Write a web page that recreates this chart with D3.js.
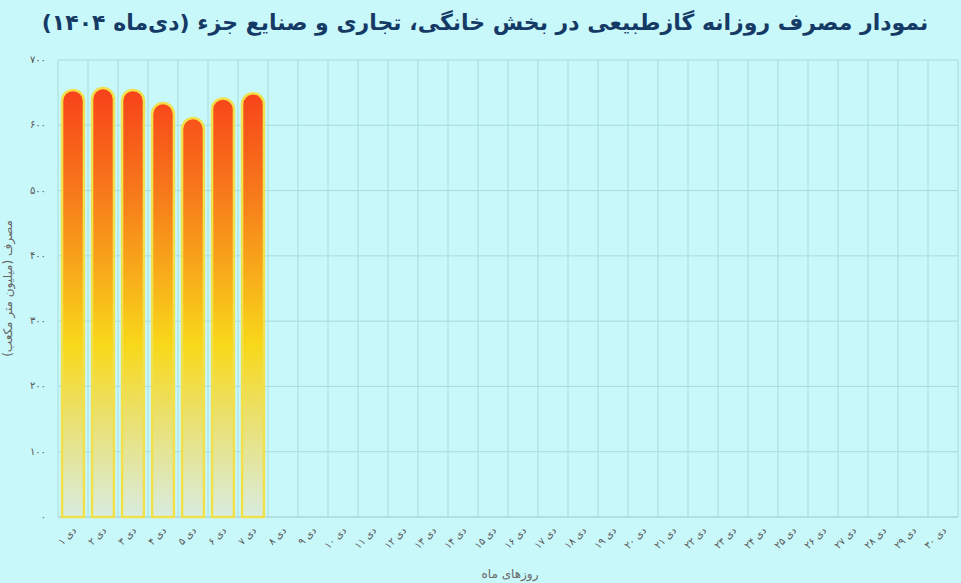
<!DOCTYPE html>
<html><head><meta charset="utf-8">
<script src="https://cdn.jsdelivr.net/npm/d3@7"></script>
<style>
body{margin:0;background:#c9f8fa;font-family:"DejaVu Sans",sans-serif;}
</style></head>
<body><svg id="c" width="961" height="583"></svg>
<script>
const fa = n => String(n).replace(/\d/g, d => "۰۱۲۳۴۵۶۷۸۹"[d]);
const days = d3.range(1, 31).map(d => fa(d) + " دی");
const values = [654, 657, 654, 634, 611, 641, 649];
const yTicks = [0, 100, 200, 300, 400, 500, 600, 700];

const svg = d3.select("#c");
const m = {l: 58, r: 3, t: 60, b: 66};
const W = 961, H = 583;
const x = d3.scaleBand().domain(days).range([m.l, W - m.r]).paddingInner(0.27).paddingOuter(0.135);
const y = d3.scaleLinear().domain([0, 700]).range([H - m.b, m.t]);

const defs = svg.append("defs");
const g = defs.append("linearGradient").attr("id", "gr").attr("gradientUnits", "userSpaceOnUse")
  .attr("x1", 0).attr("x2", 0).attr("y1", y(660)).attr("y2", y(0));
[[0, "#f8401a"], [0.25, "#f77a1a"], [0.6, "#f8d81a"], [1, "#d8ece0"]].forEach(s =>
  g.append("stop").attr("offset", s[0]).attr("stop-color", s[1]));

// grid
const step = x.step();
svg.append("g").selectAll("line").data(d3.range(31)).join("line")
  .attr("x1", i => m.l + i * (W - m.r - m.l) / 30).attr("x2", i => m.l + i * (W - m.r - m.l) / 30)
  .attr("y1", m.t).attr("y2", H - m.b).attr("stroke", "#a6dcdc").attr("stroke-width", 1);
svg.append("g").selectAll("line").data(yTicks).join("line")
  .attr("x1", m.l).attr("x2", W - m.r).attr("y1", d => y(d)).attr("y2", d => y(d))
  .attr("stroke", d => d ? "#a6dcdc" : "#9cc8c8");

svg.append("g").selectAll("text").data(yTicks).join("text")
  .attr("x", 46).attr("y", d => y(d) + 3).attr("text-anchor", "end")
  .attr("font-size", 10).attr("fill", "#555").text(d => fa(d));

// bars
const bw = x.bandwidth(), r = bw / 2;
svg.append("g").selectAll("path").data(values).join("path")
  .attr("d", (v, i) => {
    const x0 = x(days[i]), yt = y(v), yb = y(0);
    return `M${x0},${yb}V${yt + r}A${r},${r} 0 0 1 ${x0 + bw},${yt + r}V${yb}Z`;
  })
  .attr("fill", "url(#gr)").attr("stroke", "#f2e04a").attr("stroke-width", 2.5);

// x labels
svg.append("g").selectAll("text").data(days).join("text")
  .attr("transform", d => `translate(${x(d) + bw / 2 + 4},${H - m.b + 14}) rotate(-45)`)
  .attr("text-anchor", "end").attr("font-size", 10).attr("fill", "#555").text(d => d);

svg.append("text").attr("x", 510).attr("y", 578).attr("text-anchor", "middle")
  .attr("font-size", 12).attr("fill", "#666").text("روزهای ماه");
svg.append("text").attr("transform", `translate(12,${(m.t + H - m.b) / 2}) rotate(-90)`)
  .attr("text-anchor", "middle").attr("font-size", 12).attr("fill", "#666").text("مصرف (میلیون متر مکعب)");
svg.append("text").attr("x", 485).attr("y", 30).attr("text-anchor", "middle").attr("direction", "rtl")
  .attr("font-size", 22).attr("font-weight", "bold").attr("fill", "#153a66")
  .text("نمودار مصرف روزانه گازطبیعی در بخش خانگی، تجاری و صنایع جزء (دی‌ماه ۱۴۰۴)");
</script></body></html>
